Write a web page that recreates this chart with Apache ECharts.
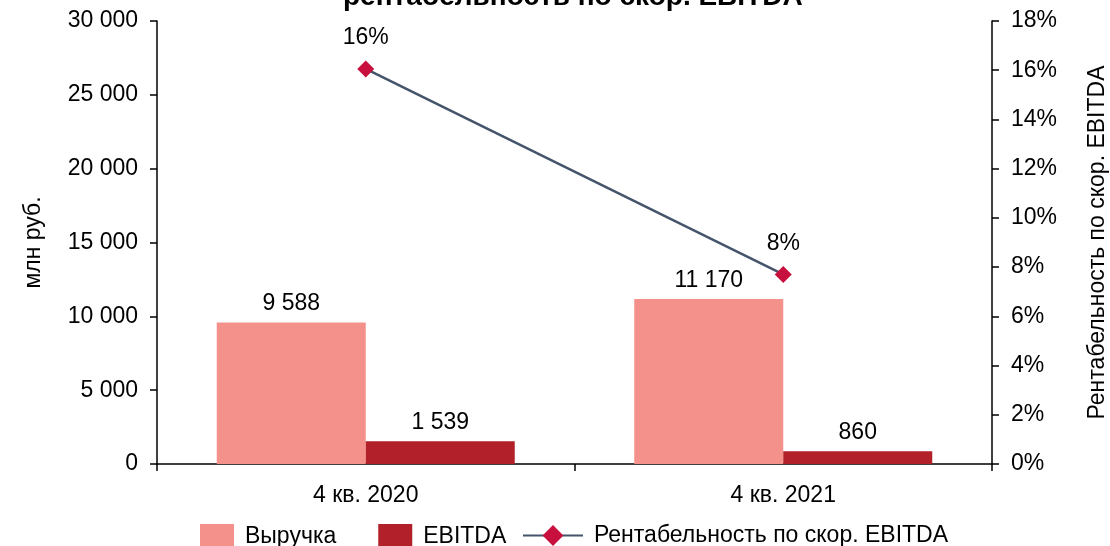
<!DOCTYPE html>
<html>
<head>
<meta charset="utf-8">
<script src="https://cdn.jsdelivr.net/npm/echarts@6/dist/echarts.min.js"></script>
<style>
  html, body { margin: 0; padding: 0; background: #fff; }
  #chart { width: 1110px; height: 546px; }
</style>
</head>
<body>
<div id="chart"></div>
<script>
// values
const categories = ['4 кв. 2020', '4 кв. 2021'];
const revenue = [9588, 11170];
const ebitda = [1539, 860];
const margin = [16.05, 7.7]; // %

const font = 'Liberation Sans, Arial, sans-serif';
const fs = 23;
const spaced = (v) => String(v).replace(/\B(?=(\d{3})+(?!\d))/g, ' ');

const chart = echarts.init(document.getElementById('chart'));

const option = {
  animation: false,
  textStyle: { fontFamily: font, color: '#000' },
  title: {
    text: 'рентабельность по скор. EBITDA',
    left: 338,
    top: -22,
    textStyle: { fontFamily: font, fontSize: 28, fontWeight: 'bold', color: '#000' }
  },
  grid: { left: 157, right: 118, top: 21, bottom: 82, outerBoundsMode: 'none' },
  legend: [
    {
      data: ['Выручка', 'EBITDA'],
      left: 195,
      top: 519,
      icon: 'rect',
      itemWidth: 34,
      itemHeight: 26,
      itemGap: 42,
      textStyle: { fontSize: fs, color: '#000', padding: [0, 0, 0, 6] }
    },
    {
      data: ['Рентабельность по скор. EBITDA'],
      left: 517,
      top: 519,
      itemWidth: 60,
      itemHeight: 26,
      textStyle: { fontSize: fs, color: '#000', padding: [0, 0, 0, 6] }
    }
  ],
  xAxis: {
    type: 'category',
    data: categories,
    axisLine: { lineStyle: { color: '#000', width: 1.5 } },
    axisTick: { show: true, length: 7, lineStyle: { color: '#000', width: 1.5 } },
    axisLabel: { fontSize: fs, color: '#000', margin: 20 }
  },
  yAxis: [
    {
      type: 'value',
      min: 0,
      max: 30000,
      interval: 5000,
      name: 'млн руб.',
      nameLocation: 'middle',
      nameRotate: 90,
      nameGap: 112,
      nameTextStyle: { fontSize: fs, color: '#000' },
      axisLine: { show: true, lineStyle: { color: '#000', width: 1.5 } },
      axisTick: { show: true, length: 7, lineStyle: { color: '#000', width: 1.5 } },
      axisLabel: { fontSize: fs, color: '#000', margin: 19, formatter: spaced },
      splitLine: { show: false }
    },
    {
      type: 'value',
      min: 0,
      max: 18,
      interval: 2,
      position: 'right',
      name: 'Рентабельность по скор. EBITDA',
      nameLocation: 'middle',
      nameRotate: 90,
      nameGap: 94,
      nameTextStyle: { fontSize: fs, color: '#000' },
      axisLine: { show: true, lineStyle: { color: '#000', width: 1.5 } },
      axisTick: { show: true, length: 7, lineStyle: { color: '#000', width: 1.5 } },
      axisLabel: { fontSize: fs, color: '#000', margin: 19, formatter: '{value}%' },
      splitLine: { show: false }
    }
  ],
  series: [
    {
      name: 'Выручка',
      type: 'bar',
      data: revenue,
      barWidth: 149,
      barGap: '0%',
      itemStyle: { color: '#F4918B' },
      label: { show: true, position: 'top', distance: 7, fontSize: fs, color: '#000', formatter: (p) => spaced(p.value) }
    },
    {
      name: 'EBITDA',
      type: 'bar',
      data: ebitda,
      barWidth: 149,
      barGap: '0%',
      itemStyle: { color: '#B2212A' },
      label: { show: true, position: 'top', distance: 7, fontSize: fs, color: '#000', formatter: (p) => spaced(p.value) }
    },
    {
      name: 'Рентабельность по скор. EBITDA',
      type: 'line',
      yAxisIndex: 1,
      data: margin,
      symbol: 'diamond',
      symbolSize: 17,
      lineStyle: { color: '#44546A', width: 2.5 },
      itemStyle: { color: '#C8103E' },
      label: { show: true, position: 'top', distance: 11, fontSize: fs, color: '#000', formatter: (p) => Math.round(p.value) + '%' }
    }
  ]
};

chart.setOption(option);
</script>
</body>
</html>
